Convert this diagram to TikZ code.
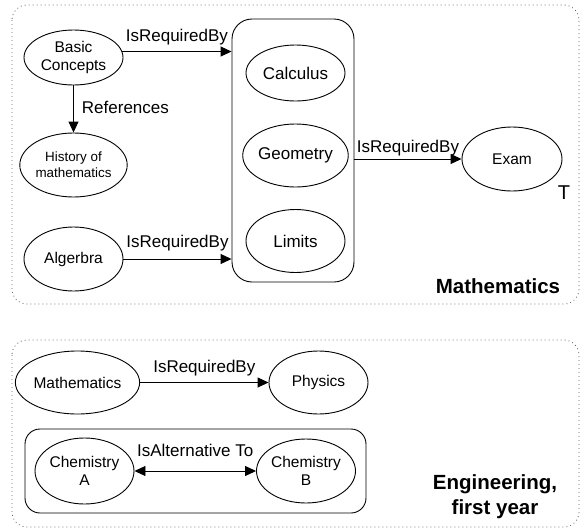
\documentclass[tikz,border=0pt]{standalone}
\usepackage{fontspec}
\setmainfont{Liberation Sans}
\usetikzlibrary{shapes.geometric,arrows.meta}

\tikzset{
  concept/.style={draw, ellipse, line width=0.9pt, inner sep=0pt, align=center,
    font=\fontsize{15.5}{17.5}\selectfont},
  bigconcept/.style={concept, font=\fontsize{17}{19}\selectfont},
  groupbox/.style={draw, line width=0.9pt, rectangle, inner sep=0pt},
  areabox/.style={draw=black!60, line width=0.8pt, dash pattern=on 0.9pt off 3.1pt,
    rounded corners=15pt},
  rel/.style={line width=0.9pt, -{Triangle[length=11pt,width=10pt]}},
  birel/.style={line width=0.9pt, {Triangle[length=11pt,width=10pt]}-{Triangle[length=11pt,width=10pt]}},
  lbl/.style={font=\fontsize{17}{19}\selectfont, inner sep=0pt},
  areatitle/.style={font=\bfseries\fontsize{20.5}{25}\selectfont, align=center, inner sep=0pt},
}

\begin{document}
\begin{tikzpicture}[x=1pt, y=-1pt]
  \useasboundingbox (0,0) rectangle (582,528);

  % ---------- Mathematics area ----------
  \draw[areabox] (12,5) rectangle (579,304);

  \node[groupbox, rounded corners=20pt, minimum width=122pt, minimum height=263pt]
    (core) at (293,150.5) {};

  \node[concept, minimum width=99pt, minimum height=55pt] (basic) at (73.5,57.5) {Basic\\Concepts};
  \node[concept, minimum width=99pt, minimum height=64pt,
        font=\fontsize{13.4}{16}\selectfont] (hist) at (73.5,165) {History of\\mathematics};
  \node[concept, minimum width=99pt, minimum height=64pt] (alg) at (73.5,259) {Algerbra};

  \node[bigconcept, minimum width=99pt, minimum height=56pt] (calc) at (295.5,73) {Calculus};
  \node[bigconcept, minimum width=99pt, minimum height=63pt] (geom) at (295.5,155.5) {Geometry};
  \node[bigconcept, minimum width=99pt, minimum height=63pt] (lim) at (295.5,241) {Limits};

  \node[concept, minimum width=100pt, minimum height=64pt] (exam) at (512,159) {Exam};
  \node[lbl, font=\fontsize{20}{22}\selectfont] (tmark) at (564,193) {T};

  \draw[rel] (basic.7) -- (basic.7 -| core.west)
    node[lbl, pos=0.5, anchor=base, yshift=10.5pt] (l1) {IsRequiredBy};
  \draw[rel] (basic.south) -- (hist.north)
    node[lbl, pos=0.5, anchor=west, xshift=8pt, yshift=1.5pt] (l2) {References};
  \draw[rel] (alg.east) -- (alg.east -| core.west)
    node[lbl, pos=0.5, anchor=base, yshift=11.5pt] (l3) {IsRequiredBy};
  \draw[rel] (core.east |- exam.west) -- (exam.west)
    node[lbl, pos=0.5, anchor=base, yshift=7pt] (l4) {IsRequiredBy};

  \node[areatitle] (mtitle) at (498,286) {Mathematics};

  % ---------- Engineering, first year area ----------
  \draw[areabox] (12,340) rectangle (579,527);

  \node[groupbox, rounded corners=15pt, minimum width=341pt, minimum height=84pt]
    (chem) at (195.5,471) {};

  \node[concept, minimum width=109pt, minimum height=63pt] (mathn) at (77.5,382.5) {Mathematics};
  \node[concept, minimum width=99pt, minimum height=63pt] (phys) at (318.5,382.5) {Physics};
  \node[concept, minimum width=99pt, minimum height=66pt] (chemA) at (84.5,471) {Chemistry\\A};
  \node[concept, minimum width=99pt, minimum height=64pt] (chemB) at (306,471) {Chemistry\\B};

  \draw[rel] (mathn.east) -- (phys.west)
    node[lbl, pos=0.5, anchor=base, yshift=10.5pt] (l5) {IsRequiredBy};
  \draw[birel] (chemA.east) -- (chemB.west)
    node[lbl, pos=0.5, anchor=base, yshift=15pt] (l6) {IsAlternative To};

  \node[areatitle] (etitle) at (495,497) {Engineering,\\first year};
\end{tikzpicture}
\end{document}
